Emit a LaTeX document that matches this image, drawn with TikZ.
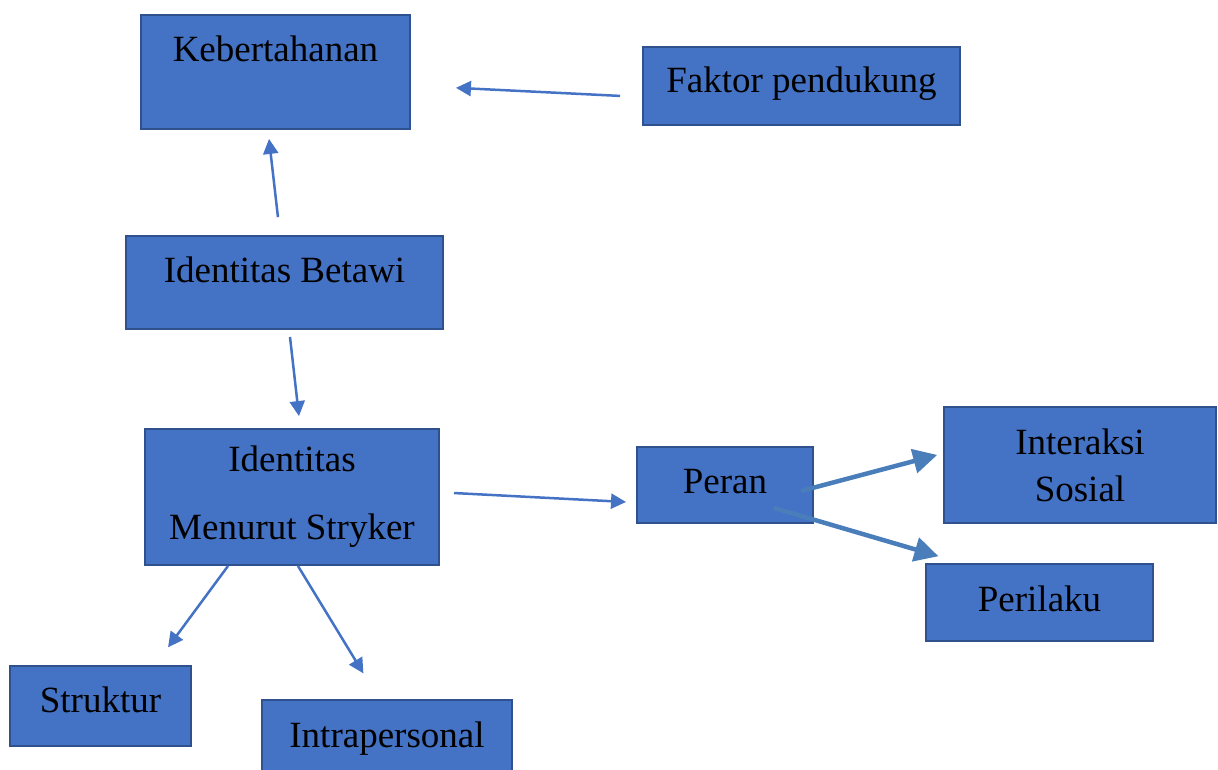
\documentclass[tikz,border=0pt]{standalone}
\usepackage{fontspec}
\setmainfont{Liberation Serif}
\usetikzlibrary{arrows.meta}
\definecolor{boxblue}{HTML}{4472C4}
\definecolor{boxedge}{HTML}{2F528F}
\definecolor{arrowblue}{HTML}{4A7EBB}
\tikzset{
 box/.style={draw=boxedge,fill=boxblue,line width=2pt,inner sep=0pt,
  font=\fontsize{37}{44}\selectfont,text=black},
 oneline/.style={text height=26pt,text depth=#1},
 thinarrow/.style={draw=boxblue,line width=2.5pt,-{Triangle[length=15pt,width=15pt]}},
 thickarrow/.style={draw=arrowblue,line width=4.5pt,-{Triangle[length=24pt,width=24pt]}}
}
\begin{document}
\begin{tikzpicture}[x=1pt,y=-1pt]
 \clip (0,0) rectangle (1218,770);
 \useasboundingbox (0,0) rectangle (1218,770);
 % boxes
 \node[box,oneline=46pt,minimum width=269pt,minimum height=114pt] (keb) at (275.5,72) {Kebertahanan};
 \node[box,oneline=12pt,minimum width=317pt,minimum height=78pt] (faktor) at (801.5,86) {Faktor pendukung};
 \node[box,oneline=26pt,minimum width=317pt,minimum height=93pt] (betawi) at (284.5,282.5) {Identitas Betawi};
 \node[box,align=center,font=\fontsize{37}{68}\selectfont,minimum width=294pt,minimum height=136pt] (stryker) at (292,497) {Identitas\\Menurut Stryker};
 \node[box,oneline=10pt,minimum width=176pt,minimum height=76pt] (peran) at (725,485) {Peran};
 \node[box,align=center,font=\fontsize{37}{47}\selectfont,minimum width=272pt,minimum height=116pt] (interaksi) at (1080,465) {Interaksi\\Sosial};
 \node[box,oneline=9pt,minimum width=227pt,minimum height=77pt] (perilaku) at (1039.5,602.5) {Perilaku};
 \node[box,oneline=14pt,minimum width=181pt,minimum height=80pt] (struktur) at (100.5,706) {Struktur};
 \node[box,oneline=18pt,minimum width=250pt,minimum height=86pt] (intra) at (387,743) {Intrapersonal};
 % arrows
 \draw[thinarrow,shorten <=22pt,shorten >=45pt] ([yshift=-11pt]faktor.west) -- ([yshift=-13.6pt]keb.east);
 \draw[thinarrow,shorten <=18pt,shorten >=9pt] ([xshift=-4.5pt]betawi.north) -- ([xshift=-7.5pt]keb.south);
 \draw[thinarrow,shorten <=7pt,shorten >=12pt] ([xshift=4.7pt]betawi.south) -- ([xshift=8.3pt]stryker.north);
 \draw[thinarrow,shorten <=14pt,shorten >=10pt] ([yshift=4.7pt]stryker.east) -- ([yshift=-17.5pt]peran.west);
 \draw[thinarrow,shorten >=22pt] ([xshift=-64pt]stryker.south) -- ([xshift=54.5pt]struktur.north);
 \draw[thinarrow,shorten >=30pt] ([xshift=6pt]stryker.south) -- ([xshift=-8pt]intra.north);
 \draw[thickarrow,shorten >=6pt] ([xshift=76pt,yshift=-6pt]peran.center) -- ([yshift=11.6pt]interaksi.west);
 \draw[thickarrow,shorten >=24pt] ([xshift=49pt,yshift=-23pt]peran.center) -- ([xshift=-78pt]perilaku.north);
\end{tikzpicture}
\end{document}
